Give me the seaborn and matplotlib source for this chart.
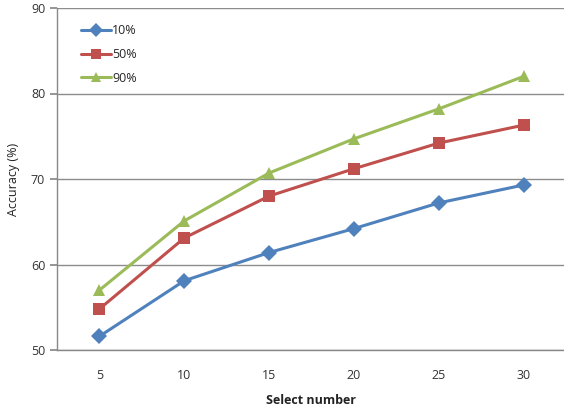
import numpy as np
import pandas as pd
import matplotlib
matplotlib.use("Agg")
import matplotlib.pyplot as plt
import seaborn as sns

select_number = [5, 10, 15, 20, 25, 30]
acc_10 = [51.6, 58.1, 61.4, 64.2, 67.2, 69.3]
acc_50 = [54.8, 63.1, 68.0, 71.2, 74.2, 76.3]
acc_90 = [57.0, 65.1, 70.7, 74.7, 78.2, 82.0]
series_names = ["10%", "50%", "90%"]

df = pd.DataFrame({
    "Select number": select_number * 3,
    "Accuracy": acc_10 + acc_50 + acc_90,
    "Series": [series_names[0]] * 6 + [series_names[1]] * 6 + [series_names[2]] * 6,
})

sns.set_theme(style="white")
plt.rcParams["font.family"] = ["Open Sans", "DejaVu Sans"]

fig = plt.figure(figsize=(5.64, 4.08), dpi=100)
ax = fig.add_axes([57 / 564, 1 - 350 / 408, (566 - 57) / 564, (350 - 8) / 408])

palette = {"10%": "#4F81BD", "50%": "#C0504D", "90%": "#9BBB59"}
markers = {"10%": "D", "50%": "s", "90%": "^"}
sns.lineplot(data=df, x="Select number", y="Accuracy", hue="Series", style="Series",
             palette=palette, markers=markers, dashes=False, linewidth=2.2,
             markersize=8, markeredgewidth=0, ax=ax)

ax.set_xlim(2.5, 32.5)
ax.set_ylim(50, 90)
ax.set_xticks(select_number)
ax.set_xticks(np.arange(2.5, 33, 5), minor=True)
ax.set_yticks([50, 60, 70, 80, 90])
ax.tick_params(axis="x", which="major", length=0, labelsize=9, colors="#333333", pad=14)
ax.tick_params(axis="x", which="minor", length=5, color="#888888", direction="out")
ax.tick_params(axis="y", length=5, color="#888888", direction="out", labelsize=9,
               colors="#333333", left=True)
ax.grid(axis="y", color="#8c8c8c", linewidth=1)
ax.set_axisbelow(True)
for s in ["top", "right"]:
    ax.spines[s].set_visible(False)
for s in ["left", "bottom"]:
    ax.spines[s].set_color("#888888")
    ax.spines[s].set_linewidth(1)

ax.set_xlabel("Select number", fontsize=9, fontweight="bold", color="#222222", labelpad=8)
ax.set_ylabel("Accuracy (%)", fontsize=9, color="#222222", labelpad=8)

leg = ax.legend(loc="upper left", bbox_to_anchor=(0.025, 0.985), frameon=False,
                fontsize=9, handlelength=2.4, handletextpad=0.1, labelspacing=0.85,
                markerscale=0.85)

fig.savefig("out.png", dpi=100)
